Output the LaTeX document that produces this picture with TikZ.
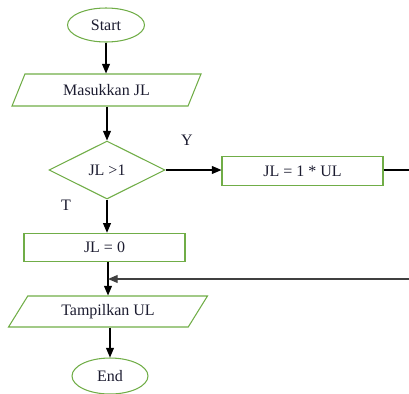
\documentclass[tikz,border=0pt]{standalone}
\usepackage{fontspec}
\setmainfont{Liberation Serif}
\usetikzlibrary{shapes.geometric, arrows.meta}
\definecolor{lgreen}{RGB}{112,173,71}
\definecolor{ink}{RGB}{28,28,48}

\begin{document}
\begin{tikzpicture}
    [x=0.02cm, y=-0.02cm,
     every node/.style={font=\fontsize{9.1}{11}\selectfont, text=ink},
     term/.style={ellipse, draw=lgreen, line width=0.6pt, inner sep=0pt,
       minimum width=1.54cm, minimum height=0.68cm},
     io/.style={trapezium, trapezium stretches body, draw=lgreen, line width=0.6pt,
       inner sep=0pt},
     proc/.style={rectangle, draw=lgreen, line width=0.6pt, inner sep=0pt,
       minimum width=3.22cm, minimum height=0.57cm},
     cond/.style={diamond, draw=lgreen, line width=0.6pt, inner sep=0pt,
       minimum width=2.32cm, minimum height=1.16cm},
     flow/.style={-{Triangle[length=5.5pt,width=4.5pt]}, line width=0.7pt}]

    \useasboundingbox (0,0) rectangle (409,393);

    \node[term] (start) at (106,25) {Start};
    \node[io, trapezium left angle=41, trapezium right angle=139,
      minimum width=3.78cm, minimum height=0.64cm] (input) at (106.5,90) {Masukkan JL};
    \node[cond] (dec) at (107,170) {JL >1};
    \node[proc] (yes) at (302.5,171) {JL = 1 * UL};
    \node[proc] (no) at (104.5,247.5) {JL = 0};
    \node[io, trapezium left angle=37, trapezium right angle=143,
      minimum width=3.98cm, minimum height=0.62cm] (out) at (108,311.5) {Tampilkan UL};
    \node[term, minimum width=1.52cm, minimum height=0.72cm] (stop) at (110,376) {End};

    \node (ylab) at (187,140) {Y};
    \node (tlab) at (66,205) {T};

    \coordinate (r1) at (409,170);
    \coordinate (r2) at (409,279);
    \coordinate (join) at (108,279);

    \draw[flow] (start.south) -- (input.north -| start.south);
    \draw[flow] (input.south -| dec.north) -- (dec.north);
    \draw[flow] (dec.east) -- (yes.west |- dec.east);
    \draw[flow] (dec.south) -- (no.north -| dec.south);
    \draw[line width=0.7pt] (yes.east |- r1) -- (r1);
    \draw[flow] (no.south -| join) -- (out.north -| join);
    \draw[flow, draw=black!75] (r2) -- (join);
    \draw[flow] (out.south -| stop.north) -- (stop.north);

\end{tikzpicture}
\end{document}
